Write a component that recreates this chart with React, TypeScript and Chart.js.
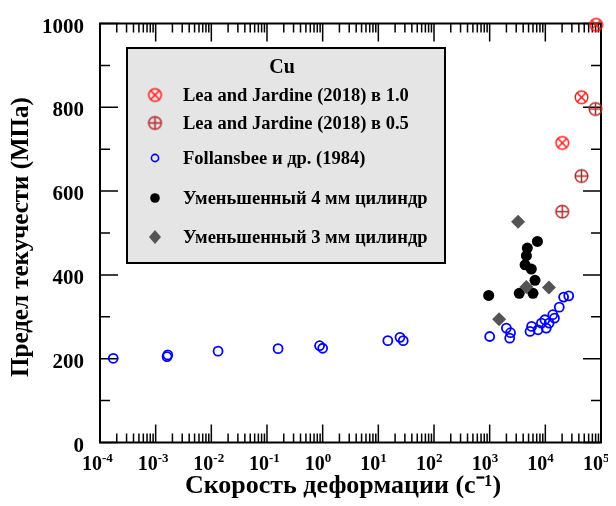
import React, { useEffect, useRef } from "react";
import { Chart, registerables } from "chart.js";

Chart.register(...registerables);

// ---- data ----
const leaX10 = [20100, 44600, 81700];
const leaY10 = [715, 824, 997];
const leaX05 = [20100, 44600, 79600];
const leaY05 = [551, 636, 796];
const follX = [1.73e-4, 1.6e-3, 1.65e-3, 0.0132, 0.158, 0.88, 1.0, 14.8, 24.5, 28, 1000, 1995, 2370, 2290, 5300, 5660, 7400, 8500, 9800, 10400, 11700, 13600, 14600, 17800, 21300, 26300];
const follY = [201, 205, 209, 218, 224, 231, 225, 243, 251, 243, 253, 273, 262, 249, 265, 277, 269, 285, 293, 273, 285, 305, 297, 323, 347, 350];
const cyl4X = [960, 3400, 6000, 7200, 4750, 4570, 4330, 5600, 6520];
const cyl4Y = [351, 356, 356, 480, 464, 446, 424, 414, 387];
const cyl3X = [1480, 3240, 4560, 11600];
const cyl3Y = [294, 527, 371, 370];

const yTicks = [0, 200, 400, 600, 800, 1000];
const yMinorTicks = [100, 300, 500, 700, 900];
const xExponents = [-4, -3, -2, -1, 0, 1, 2, 3, 4, 5];
const xExpLabels = ["-4", "-3", "-2", "-1", "0", "1", "2", "3", "4", "5"];

const legendTitle = "Cu";
const seriesNames = [
  "Lea and Jardine (2018) в 1.0",
  "Lea and Jardine (2018) в 0.5",
  "Follansbee и др. (1984)",
  "Уменьшенный 4 мм цилиндр",
  "Уменьшенный 3 мм цилиндр",
];
const xTitle = "Скорость деформации (с⁻¹)";
const yTitle = "Предел текучести (МПа)";

const RED1 = "#ff1a1a";
const RED2 = "#b02828";
const BLUE = "#0000ff";
const BLACK = "#000000";
const GRAY = "#545454";
const SERIF = '"Liberation Serif", "Times New Roman", serif';

function pts(xs: number[], ys: number[]) {
  return xs.map((x, i) => ({ x, y: ys[i] }));
}

function circleMark(color: string, rotated: boolean, r: number) {
  const size = Math.ceil(r * 2 + 4);
  const c = document.createElement("canvas");
  c.width = size;
  c.height = size;
  const ctx = c.getContext("2d")!;
  const m = size / 2;
  ctx.strokeStyle = color;
  ctx.lineWidth = 1.5;
  ctx.beginPath();
  ctx.arc(m, m, r, 0, Math.PI * 2);
  ctx.stroke();
  ctx.beginPath();
  if (rotated) {
    const d = r * Math.SQRT1_2;
    ctx.moveTo(m - d, m - d);
    ctx.lineTo(m + d, m + d);
    ctx.moveTo(m - d, m + d);
    ctx.lineTo(m + d, m - d);
  } else {
    ctx.moveTo(m - r, m);
    ctx.lineTo(m + r, m);
    ctx.moveTo(m, m - r);
    ctx.lineTo(m, m + r);
  }
  ctx.stroke();
  return c;
}

export default function App() {
  const ref = useRef<HTMLCanvasElement | null>(null);

  useEffect(() => {
    const canvas = ref.current;
    if (!canvas) return;
    const mark10 = circleMark(RED1, true, 6.3);
    const mark05 = circleMark(RED2, false, 6.3);

    const framePlugin = {
      id: "frame",
      beforeDatasetsDraw(chart: any) {
        const { ctx, chartArea: a, scales } = chart;
        const xs = scales.x;
        const ys = scales.y;
        ctx.save();
        ctx.strokeStyle = "#000";
        ctx.lineWidth = 1.5;
        ctx.beginPath();
        xExponents.forEach((e, i) => {
          const px = xs.getPixelForValue(Math.pow(10, e));
          ctx.moveTo(px, a.bottom);
          ctx.lineTo(px, a.bottom - 18);
          ctx.moveTo(px, a.top);
          ctx.lineTo(px, a.top + 18);
          if (i < xExponents.length - 1) {
            for (let k = 2; k <= 9; k++) {
              const pm = xs.getPixelForValue(k * Math.pow(10, e));
              ctx.moveTo(pm, a.bottom);
              ctx.lineTo(pm, a.bottom - 9);
              ctx.moveTo(pm, a.top);
              ctx.lineTo(pm, a.top + 9);
            }
          }
        });
        yTicks.forEach((v) => {
          const py = ys.getPixelForValue(v);
          ctx.moveTo(a.left, py);
          ctx.lineTo(a.left + 18, py);
          ctx.moveTo(a.right, py);
          ctx.lineTo(a.right - 18, py);
        });
        yMinorTicks.forEach((v) => {
          const py = ys.getPixelForValue(v);
          ctx.moveTo(a.left, py);
          ctx.lineTo(a.left + 10, py);
          ctx.moveTo(a.right, py);
          ctx.lineTo(a.right - 10, py);
        });
        ctx.stroke();
        ctx.lineWidth = 2;
        ctx.strokeRect(a.left, a.top, a.right - a.left, a.bottom - a.top);

        ctx.fillStyle = "#000";
        ctx.font = `bold 21px ${SERIF}`;
        ctx.textAlign = "right";
        ctx.textBaseline = "alphabetic";
        yTicks.forEach((v) => {
          const py = ys.getPixelForValue(v);
          ctx.fillText(String(v), a.left - 16, py + 9);
        });
        xExponents.forEach((e, i) => {
          const px = xs.getPixelForValue(Math.pow(10, e));
          ctx.font = `bold 20px ${SERIF}`;
          ctx.textAlign = "right";
          ctx.fillText("10", px + 2, a.bottom + 27);
          ctx.font = `bold 13px ${SERIF}`;
          ctx.textAlign = "left";
          ctx.fillText(xExpLabels[i], px + 2, a.bottom + 19);
        });
        ctx.font = `bold 26px ${SERIF}`;
        ctx.textAlign = "center";
        ctx.fillText(xTitle, 335, 485);
        ctx.font = `bold 25px ${SERIF}`;
        ctx.save();
        ctx.translate(14, 229);
        ctx.rotate(-Math.PI / 2);
        ctx.textBaseline = "middle";
        ctx.fillText(yTitle, 0, 0);
        ctx.restore();
        ctx.restore();
      },
      afterDraw(chart: any) {
        const { ctx } = chart;
        ctx.save();
        const bx = 119, by = 40, bw = 318, bh = 215;
        ctx.fillStyle = "#e5e5e5";
        ctx.fillRect(bx, by, bw, bh);
        ctx.strokeStyle = "#000";
        ctx.lineWidth = 2;
        ctx.strokeRect(bx, by, bw, bh);
        ctx.fillStyle = "#000";
        ctx.font = `bold 20px ${SERIF}`;
        ctx.textAlign = "center";
        ctx.textBaseline = "middle";
        ctx.fillText(legendTitle, 274, 60);
        ctx.font = `bold 18.5px ${SERIF}`;
        ctx.textAlign = "left";
        const rows = [87, 115, 150, 190, 229];
        const sx = 147;
        rows.forEach((ry, i) => {
          ctx.fillStyle = "#000";
          ctx.fillText(seriesNames[i], 175, ry + 1);
        });
        ctx.drawImage(mark10, sx - mark10.width / 2, rows[0] - mark10.height / 2);
        ctx.drawImage(mark05, sx - mark05.width / 2, rows[1] - mark05.height / 2);
        ctx.strokeStyle = BLUE;
        ctx.lineWidth = 1.6;
        ctx.beginPath();
        ctx.arc(sx, rows[2], 3.6, 0, Math.PI * 2);
        ctx.stroke();
        ctx.fillStyle = BLACK;
        ctx.beginPath();
        ctx.arc(sx, rows[3], 4.8, 0, Math.PI * 2);
        ctx.fill();
        ctx.fillStyle = GRAY;
        ctx.beginPath();
        ctx.moveTo(sx, rows[4] - 7);
        ctx.lineTo(sx + 6, rows[4]);
        ctx.lineTo(sx, rows[4] + 7);
        ctx.lineTo(sx - 6, rows[4]);
        ctx.closePath();
        ctx.fill();
        ctx.restore();
      },
    };

    const chart = new Chart(canvas, {
      type: "scatter",
      data: {
        datasets: [
          {
            label: seriesNames[2],
            data: pts(follX, follY),
            pointStyle: "circle",
            pointRadius: 4.5,
            borderColor: BLUE,
            backgroundColor: "rgba(0,0,0,0)",
            pointBorderWidth: 1.8,
            clip: false,
          } as any,
          {
            label: seriesNames[4],
            data: pts(cyl3X, cyl3Y),
            pointStyle: "rectRot",
            pointRadius: 7,
            borderColor: GRAY,
            backgroundColor: GRAY,
            pointBorderWidth: 0,
            clip: false,
          } as any,
          {
            label: seriesNames[3],
            data: pts(cyl4X, cyl4Y),
            pointStyle: "circle",
            pointRadius: 5.5,
            borderColor: BLACK,
            backgroundColor: BLACK,
            pointBorderWidth: 0,
            clip: false,
          } as any,
          {
            label: seriesNames[0],
            data: pts(leaX10, leaY10),
            pointStyle: mark10,
            clip: false,
          } as any,
          {
            label: seriesNames[1],
            data: pts(leaX05, leaY05),
            pointStyle: mark05,
            clip: false,
          } as any,
        ],
      },
      options: {
        responsive: false,
        maintainAspectRatio: false,
        animation: false,
        layout: { padding: { left: 92, right: 6, top: 15.5, bottom: 55.5 } },
        plugins: { legend: { display: false }, tooltip: { enabled: false } },
        scales: {
          x: { type: "logarithmic", min: 1e-4, max: 1e5, display: false },
          y: { type: "linear", min: 0, max: 1000, display: false },
        },
      },
      plugins: [framePlugin],
    });
    return () => chart.destroy();
  }, []);

  return (
    <div style={{ width: 600, height: 490 }}>
      <canvas ref={ref} width={600} height={490} style={{ display: "block" }} />
    </div>
  );
}
